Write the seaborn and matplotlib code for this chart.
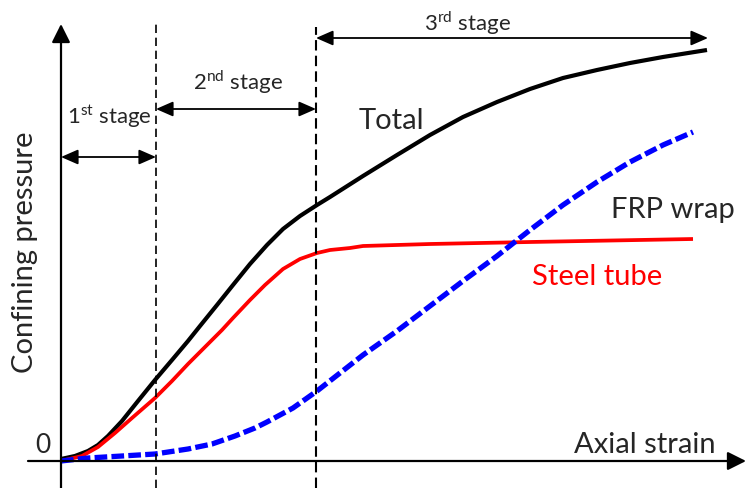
import matplotlib
matplotlib.use("Agg")
import seaborn as sns
import matplotlib.pyplot as plt

# schematic: confining pressure vs axial strain (arbitrary units, origin at the axes corner)
strain_total = [0, 14, 27, 37, 47, 61, 77, 94, 111, 127, 139, 156, 172, 189, 206, 222, 239, 256,
                269, 302, 336, 369, 402, 436, 469, 502, 536, 569, 602, 646]
p_total = [2, 5, 10, 16, 25, 40, 60, 81, 101, 120, 135, 156, 176, 197, 216, 232, 245, 256,
           264, 285, 306, 326, 344, 359, 372, 383, 391, 398, 404, 411]

strain_steel = [0, 21, 37, 54, 71, 94, 111, 127, 144, 161, 172, 189, 204, 222, 239, 256, 269, 289,
                302, 369, 469, 632]
p_steel = [0, 5, 14, 28, 43, 63, 80, 97, 114, 131, 143, 161, 176, 192, 202, 208, 211, 213,
           215, 217, 219, 222]

strain_frp = [0, 27, 61, 94, 127, 151, 174, 194, 206, 232, 256, 302, 336, 369, 402, 436, 469, 502,
              536, 569, 602, 632]
p_frp = [0, 3, 5, 7, 12, 17, 25, 33, 39, 53, 70, 106, 130, 155, 180, 205, 231, 256,
         279, 299, 316, 329]

stage_bounds = [0, 95, 255, 647]
stage_arrow_y = [304, 352, 423]
stage_labels = ["1$^{\\mathrm{st}}$ stage", "2$^{\\mathrm{nd}}$ stage", "3$^{\\mathrm{rd}}$ stage"]

sns.set_style("white")
plt.rcParams["font.family"] = ["Lato", "DejaVu Sans"]
plt.rcParams["mathtext.fontset"] = "custom"
plt.rcParams["mathtext.rm"] = "Lato"

fig = plt.figure(figsize=(7.46, 4.88), dpi=100)
ax = fig.add_axes([0, 0, 1, 1])
ax.set_xlim(-61, 685)
ax.set_ylim(-27, 461)
ax.axis("off")

# curves
sns.lineplot(x=strain_total, y=p_total, color="black", lw=3.0, solid_capstyle="butt", ax=ax)
sns.lineplot(x=strain_steel, y=p_steel, color="#ff0000", lw=2.7, solid_capstyle="butt", ax=ax)
sns.lineplot(x=strain_frp, y=p_frp, color="#0000ff", lw=3.8, linestyle=(0, (2.4, 0.8)), ax=ax)

# axes with arrow heads
ax.annotate("", xy=(0, 437), xytext=(0, -27),
            arrowprops=dict(arrowstyle="-|>,head_length=0.8,head_width=0.4", color="black", lw=1.6,
                            shrinkA=0, shrinkB=0, mutation_scale=14))
ax.annotate("", xy=(685, 0), xytext=(-33, 0),
            arrowprops=dict(arrowstyle="-|>,head_length=0.8,head_width=0.4", color="black", lw=1.6,
                            shrinkA=0, shrinkB=0, mutation_scale=14))

# stage boundaries
ax.plot([stage_bounds[1], stage_bounds[1]], [-27, 437], color="black", lw=1.2, linestyle=(0, (5, 2.8)))
ax.plot([stage_bounds[2], stage_bounds[2]], [-27, 434], color="black", lw=1.5, linestyle=(0, (5, 2.5)))

# stage arrows
for i in range(3):
    ax.annotate("", xy=(stage_bounds[i + 1], stage_arrow_y[i]), xytext=(stage_bounds[i], stage_arrow_y[i]),
                arrowprops=dict(arrowstyle="<|-|>,head_length=0.8,head_width=0.35", color="black", lw=1.3,
                                shrinkA=0, shrinkB=0, mutation_scale=13))

ax.text(48, 337, stage_labels[0], ha="center", va="baseline", fontsize=16)
ax.text(177, 371, stage_labels[1], ha="center", va="baseline", fontsize=16)
ax.text(406, 430, stage_labels[2], ha="center", va="baseline", fontsize=16)

# labels
ax.text(330, 332, "Total", ha="center", va="baseline", fontsize=21)
ax.text(612, 243, "FRP wrap", ha="center", va="baseline", fontsize=21)
ax.text(536, 176, "Steel tube", ha="center", va="baseline", fontsize=21, color="#ff0000")
ax.text(584, 8, "Axial strain", ha="center", va="baseline", fontsize=21)
ax.text(-18, 8, "0", ha="center", va="baseline", fontsize=19)
ax.text(-36, 209, "Confining pressure", ha="center", va="center", rotation=90, fontsize=21)

plt.savefig("out.png", dpi=100)
